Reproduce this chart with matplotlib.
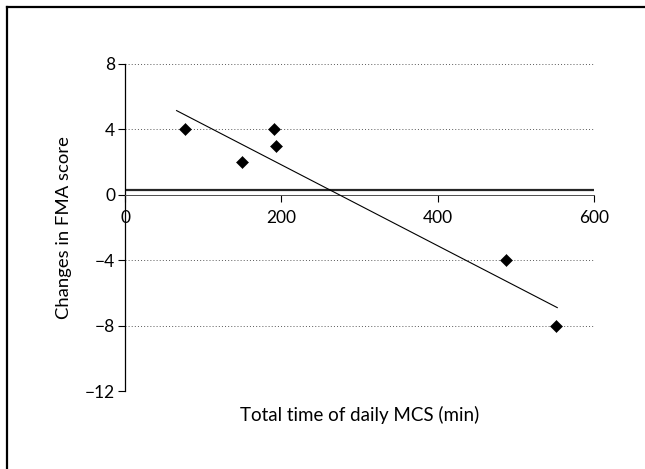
import matplotlib.pyplot as plt
from matplotlib.lines import Line2D

# data
mcs_minutes = [77, 150, 190, 193, 487, 552]
fma_change = [4, 2, 4, 3, -4, -8]
fit_x = [66, 553]
fit_y = [5.15, -6.9]
ref_level = 0.28
x_ticks = [0, 200, 400, 600]
y_ticks = [-12, -8, -4, 0, 4, 8]

plt.rcParams['font.family'] = ['Lato', 'DejaVu Sans']

fig = plt.figure(figsize=(6.45, 4.69), dpi=100)
ax = fig.add_axes([125 / 645, 1 - 391 / 469, (594 - 125) / 645, (391 - 64) / 469])

# dotted gridlines
for yv in y_ticks:
    if yv == 0:
        continue
    ax.plot([0, 600], [yv, yv], color='0.35', lw=0.7,
            linestyle=(0, (1, 2.2)), zorder=1)

ax.plot([0, 600], [ref_level, ref_level], color='0.15', lw=1.6, zorder=2)
ax.plot(fit_x, fit_y, color='k', lw=0.8, zorder=3)
ax.plot(mcs_minutes, fma_change, linestyle='none', marker='D', ms=6.2,
        color='k', mec='k', mew=0.4, zorder=4)

ax.set_xlim(0, 600)
ax.set_ylim(-12, 8)
ax.set_xticks(x_ticks)
ax.set_yticks(y_ticks)
ax.set_yticklabels(['\u221212', '\u22128', '\u22124', '0', '4', '8'])

ax.spines['top'].set_visible(False)
ax.spines['right'].set_visible(False)
ax.spines['bottom'].set_position(('data', 0))
ax.spines['left'].set_linewidth(0.9)
ax.spines['bottom'].set_linewidth(0.7)
ax.spines['bottom'].set_color('0.3')
ax.tick_params(axis='both', direction='out', length=5, width=0.8,
               labelsize=12.5, pad=2)
ax.tick_params(axis='x', pad=6)
for lab in ax.get_xticklabels():
    lab.set_bbox(dict(facecolor='white', edgecolor='none', pad=3))
    lab.set_zorder(10)

ax.set_ylabel('Changes in FMA score', fontsize=13.3)
ax.yaxis.set_label_coords(-0.113, 0.5)
ax.set_xlabel('Total time of daily MCS (min)', fontsize=13.5)
ax.xaxis.set_label_coords(0.5, -0.046)

# outer frame (left and top edges visible)
fig.add_artist(Line2D([6.5 / 645, 6.5 / 645], [0, 1 - 7 / 469], color='k',
                      lw=1.6, transform=fig.transFigure))
fig.add_artist(Line2D([6.5 / 645, 1], [1 - 7 / 469, 1 - 7 / 469], color='k',
                      lw=1.6, transform=fig.transFigure))

fig.savefig('out.png', dpi=100)
